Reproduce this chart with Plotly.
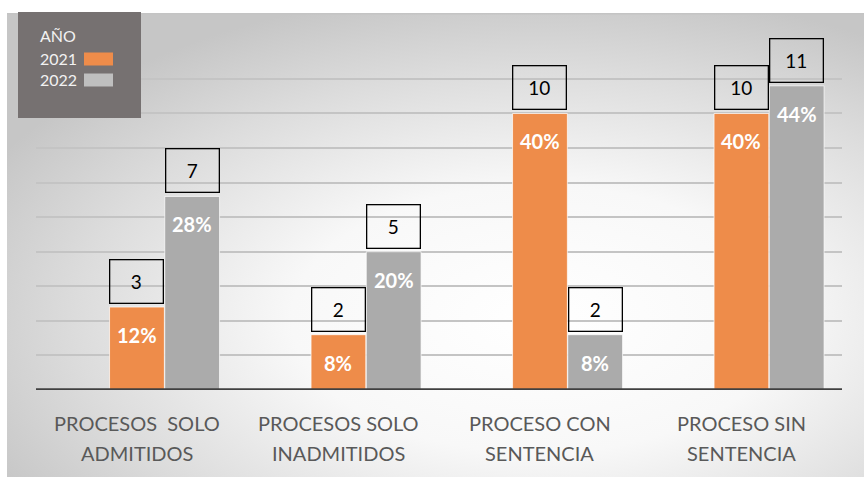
import base64
import plotly.graph_objects as go

# ---------------- data ----------------
categories = ["PROCESOS  SOLO ADMITIDOS", "PROCESOS SOLO INADMITIDOS",
              "PROCESO CON SENTENCIA", "PROCESO SIN SENTENCIA"]
cat_line1 = ["PROCESOS  SOLO", "PROCESOS SOLO", "PROCESO CON", "PROCESO SIN"]
cat_line2 = ["ADMITIDOS", "INADMITIDOS", "SENTENCIA", "SENTENCIA"]
series_names = ["2021", "2022"]
pct_2021 = [12, 8, 40, 40]
pct_2022 = [28, 20, 8, 44]
count_2021 = [3, 2, 10, 10]
count_2022 = [7, 5, 2, 11]
legend_title = "AÑO"

# ---------------- geometry / style ----------------
W, H = 864, 477
ML, MR, MT, MB = 36, 22, 44, 87
PW, PH = W - ML - MR, H - MT - MB


def xp(px):
    return (px - ML) / PW


def yp(py):
    return (H - MB - py) / PH


ORANGE = "#EE8C4A"
GRAY = "#ABABAB"
BAR_W = 0.272
OFF = {"2021": -0.135, "2022": 0.139}
FONT = "Lato, 'Open Sans', sans-serif"

fig = go.Figure()

for name, vals, color in [("2021", pct_2021, ORANGE), ("2022", pct_2022, GRAY)]:
    fig.add_trace(go.Bar(
        x=categories, y=vals, name=name,
        offset=OFF[name], width=BAR_W,
        marker=dict(color=color, line=dict(color="rgba(255,255,255,0.7)", width=1)),
        showlegend=False, hoverinfo="skip",
    ))

annotations = []
for name, vals, counts in [("2021", pct_2021, count_2021), ("2022", pct_2022, count_2022)]:
    for i, (v, c) in enumerate(zip(vals, counts)):
        xc = i + OFF[name] + BAR_W / 2
        # percentage label inside bar
        annotations.append(dict(
            x=xc, y=v, xref="x", yref="y", text=f"<b>{v}%</b>",
            showarrow=False, yanchor="middle", yshift=-28,
            font=dict(family=FONT, size=20, color="white"),
        ))
        # count box above bar
        annotations.append(dict(
            x=xc, y=v, xref="x", yref="y", text=str(c),
            showarrow=False, yanchor="bottom", yshift=3,
            width=50, height=40, borderpad=1,
            bordercolor="black", borderwidth=1.3,
            font=dict(family=FONT, size=19, color="black"),
        ))

# category labels (two lines)
for i in range(len(categories)):
    annotations.append(dict(
        x=i, y=0, xref="x", yref="paper", text=cat_line1[i], showarrow=False,
        yanchor="middle", yshift=-33,
        font=dict(family=FONT, size=20, color="#595959"),
    ))
    annotations.append(dict(
        x=i, y=0, xref="x", yref="paper", text=cat_line2[i], showarrow=False,
        yanchor="middle", yshift=-63,
        font=dict(family=FONT, size=20, color="#595959"),
    ))

# manual legend
legend_colors = {"2021": ORANGE, "2022": "#BFBFBF"}
annotations.append(dict(
    x=xp(38), y=yp(35), xref="paper", yref="paper", text=legend_title,
    showarrow=False, xanchor="left", yanchor="middle",
    font=dict(family=FONT, size=16, color="#F2F2F2"),
))
shapes = []
for k, (name, yc) in enumerate(zip(series_names, [59, 80])):
    annotations.append(dict(
        x=xp(38), y=yp(yc), xref="paper", yref="paper", text=name,
        showarrow=False, xanchor="left", yanchor="middle",
        font=dict(family=FONT, size=16, color="#F2F2F2"),
    ))
    shapes.append(dict(
        type="rect", xref="paper", yref="paper",
        x0=xp(84), x1=xp(113), y0=yp(yc + 6.5), y1=yp(yc - 6.5),
        fillcolor=legend_colors[name], line=dict(width=0), layer="above",
    ))

# legend box (drawn above background)
shapes.insert(0, dict(
    type="rect", xref="paper", yref="paper",
    x0=xp(18), x1=xp(141), y0=yp(118), y1=yp(12),
    fillcolor="#767171", line=dict(width=0), layer="above",
))
# baseline
shapes.append(dict(
    type="line", xref="paper", yref="y", x0=0, x1=1, y0=0, y1=0,
    line=dict(color="#404040", width=3.5), layer="above",
))

# background gradient (SVG) for chart area
svg = """<svg xmlns='http://www.w3.org/2000/svg' width='857' height='464' viewBox='0 0 857 464' preserveAspectRatio='none'>
<defs><radialGradient id='g' cx='0.62' cy='0.66' r='0.72' fx='0.62' fy='0.66'>
<stop offset='0' stop-color='#ffffff'/>
<stop offset='0.4' stop-color='#f8f8f8'/>
<stop offset='0.75' stop-color='#dcdcdc'/>
<stop offset='1' stop-color='#c6c6c6'/>
</radialGradient></defs>
<rect x='0' y='0' width='857' height='464' fill='url(#g)'/>
<rect x='0' y='0' width='857' height='1.5' fill='#c4c4c4'/>
</svg>"""
src = "data:image/svg+xml;base64," + base64.b64encode(svg.encode()).decode()

fig.update_layout(
    width=W, height=H,
    margin=dict(l=ML, r=MR, t=MT, b=MB),
    paper_bgcolor="white", plot_bgcolor="rgba(0,0,0,0)",
    barmode="overlay",
    xaxis=dict(type="category", range=[-0.5, 3.5], showticklabels=False,
               showgrid=False, zeroline=False, ticks=""),
    yaxis=dict(range=[0, 50.05], dtick=5, showticklabels=False,
               showgrid=True, gridcolor="#C4C4C4", gridwidth=1.5,
               zeroline=False, ticks=""),
    annotations=annotations,
    shapes=shapes,
    images=[dict(source=src, xref="paper", yref="paper",
                 x=xp(7), y=yp(13), sizex=xp(864) - xp(7), sizey=yp(13) - yp(477),
                 xanchor="left", yanchor="top", sizing="stretch", layer="below")],
)

fig.write_html("out.html", config={"displayModeBar": False},
               post_script="document.body.style.margin='0';")
